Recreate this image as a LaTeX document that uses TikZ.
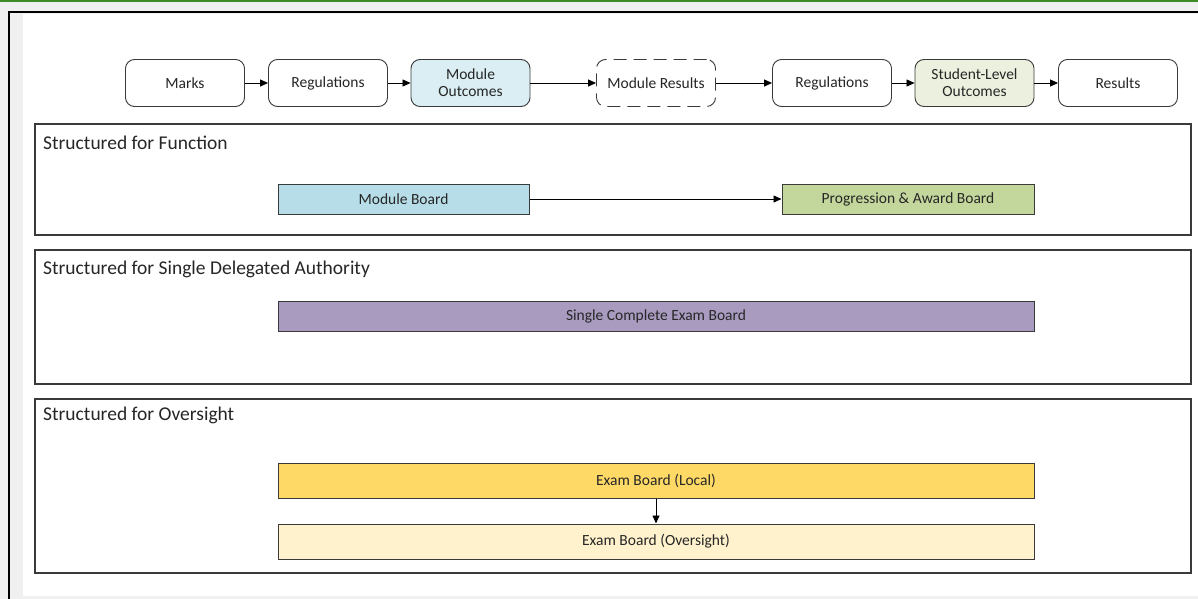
\documentclass[tikz,border=0pt]{standalone}
\usepackage{fontspec}
\setmainfont{Carlito}
\usetikzlibrary{arrows.meta}
\definecolor{bggray}{HTML}{F0F0F0}
\definecolor{topgreen}{HTML}{3C8C28}
\definecolor{txt}{HTML}{262626}
\definecolor{edge}{HTML}{3A3A3A}
\definecolor{moflow}{HTML}{DAEEF3}
\definecolor{stflow}{HTML}{EBF1DE}
\definecolor{modboard}{HTML}{B7DEE8}
\definecolor{progboard}{HTML}{C3D69B}
\definecolor{singleboard}{HTML}{A99BC0}
\definecolor{localboard}{HTML}{FFD966}
\definecolor{overboard}{HTML}{FFF2CC}
\begin{document}
\begin{tikzpicture}[x=1pt,y=-1pt,
  flow/.style={draw=edge, line width=0.9pt, rounded corners=9pt, minimum width=119pt, minimum height=47pt, inner sep=0pt, align=center, font=\fontsize{15.5}{17}\selectfont, text=txt, fill=white},
  board/.style={draw=edge, line width=1pt, minimum height=30pt, inner sep=0pt, font=\fontsize{15.5}{17}\selectfont, text=txt},
  sectionbox/.style={draw=edge, line width=1.1pt, inner sep=0pt, fill=white},
  sectitle/.style={anchor=west, inner sep=0pt, font=\fontsize{19.5}{21}\selectfont, text=txt},
  arr/.style={-{Triangle[length=8pt,width=7pt]}, line width=0.8pt, draw=black}]
\useasboundingbox (0,0) rectangle (1198,599);
% background / window frame
\fill[bggray] (0,0) rectangle (1198,599);
\fill[white] (23,14) rectangle (1198,596);
\fill[topgreen] (0,0) rectangle (1198,1.6);
\draw[black, line width=2pt] (8.5,599) -- (8.5,12.5) -- (1198,12.5);

% top flow
\node[flow] (marks) at (185,83) {Marks};
\node[flow] (reg1) at (328,83) {Regulations};
\node[flow, fill=moflow] (modout) at (470.5,83) {Module\\Outcomes};
\node[flow, dashed, dash pattern=on 13pt off 7pt] (modres) at (656,83) {Module Results};
\node[flow] (reg2) at (832,83) {Regulations};
\node[flow, fill=stflow] (stout) at (974.5,83) {Student-Level\\Outcomes};
\node[flow] (results) at (1118,83) {Results};
\draw[arr] (marks) -- (reg1);
\draw[arr] (reg1) -- (modout);
\draw[arr] (modout) -- (modres);
\draw[arr] (modres) -- (reg2);
\draw[arr] (reg2) -- (stout);
\draw[arr] (stout) -- (results);

% section 1
\node[sectionbox, minimum width=1156pt, minimum height=111pt] (sec1) at (613,179.5) {};
\node[sectitle] (t1) at (43,142.5) {Structured for Function};
\node[board, fill=modboard, minimum width=251pt] (modb) at (403.5,199) {Module Board};
\node[board, fill=progboard, minimum width=252pt] (progb) at (908,199) {Progression \& Award Board};
\draw[arr] (modb) -- (progb);

% section 2
\node[sectionbox, minimum width=1156pt, minimum height=134pt] (sec2) at (613,317) {};
\node[sectitle] (t2) at (43,269) {Structured for Single Delegated Authority};
\node[board, fill=singleboard, minimum width=756pt] (single) at (656,316) {Single Complete Exam Board};

% section 3
\node[sectionbox, minimum width=1156pt, minimum height=174pt] (sec3) at (613,486) {};
\node[sectitle] (t3) at (43,415) {Structured for Oversight};
\node[board, fill=localboard, minimum width=756pt, minimum height=35pt] (local) at (656,480.5) {Exam Board (Local)};
\node[board, fill=overboard, minimum width=756pt, minimum height=35pt] (over) at (656,541.5) {Exam Board (Oversight)};
\draw[arr] (local) -- (over);
\end{tikzpicture}
\end{document}
